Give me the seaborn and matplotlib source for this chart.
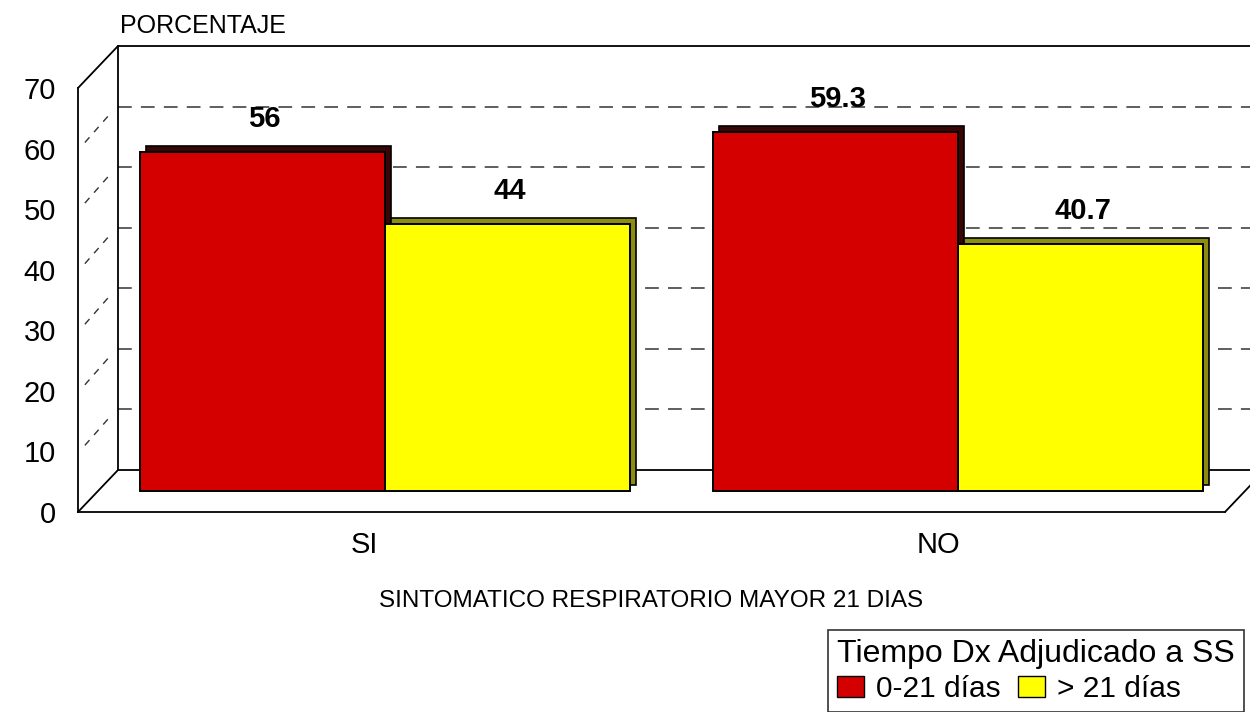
import numpy as np
import pandas as pd
import matplotlib
matplotlib.use('Agg')
import matplotlib.pyplot as plt
import matplotlib.transforms as mtransforms
from matplotlib.patches import Patch
import seaborn as sns

# Data
categorias = ['SI', 'NO']
grupos = ['0-21 días', '> 21 días']
pct_0_21 = [56, 59.3]
pct_mas_21 = [44, 40.7]
etiquetas = ['56', '59.3', '44', '40.7']
yticks = [0, 10, 20, 30, 40, 50, 60, 70]

df = pd.DataFrame({
    'sintomatico': categorias * 2,
    'tiempo': [grupos[0]] * 2 + [grupos[1]] * 2,
    'pct': pct_0_21 + pct_mas_21,
})

rojo = '#d40000'
amarillo = '#ffff00'
rojo_osc = '#3a0505'
amarillo_osc = '#8c8c10'

sns.set_style('white')
plt.rcParams['font.family'] = ['Liberation Sans', 'DejaVu Sans']
plt.rcParams['text.color'] = 'black'
plt.rcParams['xtick.color'] = 'black'
plt.rcParams['ytick.color'] = 'black'
plt.rcParams['axes.labelcolor'] = 'black'

fig = plt.figure(figsize=(12.5, 7.12), dpi=100)
W, H = 1250, 712
ax = fig.add_axes([78 / W, 1 - 512 / H, (1225 - 78) / W, (512 - 88) / H])
ax.set_xlim(-0.5, 1.5)
ax.set_ylim(0, 70)

# depth of the 3D box in data units (40 px right, 42 px up)
px_x = (1225 - 78) / 2.0
px_y = (512 - 88) / 70.0
dx, dy = 40 / px_x, 42 / px_y
x0, x1 = -0.5, 1.5

# back wall and floor
line_kw = dict(color='black', lw=1.3, clip_on=False, zorder=1)
ax.plot([x0 + dx, x1 + dx + 0.1], [70 + dy, 70 + dy], **line_kw)
ax.plot([x0 + dx, x0 + dx], [dy, 70 + dy], **line_kw)
ax.plot([x0, x0 + dx], [70, 70 + dy], **line_kw)
ax.plot([x0, x0 + dx], [0, dy], **line_kw)
ax.plot([x0 + dx, x1 + dx], [dy, dy], **line_kw)
ax.plot([x1, x1 + dx], [0, dy], **line_kw)
for v in yticks[1:-1]:
    ax.plot([x0 + dx, x1 + dx + 0.1], [v + dy, v + dy], color='#333333', lw=1.1,
            ls=(0, (9, 6)), clip_on=False, zorder=0.5)
    ax.plot([x0 + 0.012, x0 + dx - 0.012], [v + 1, v + dy - 1], color='#333333',
            lw=1.0, ls=(0, (5, 5)), clip_on=False, zorder=0.5)

# bars: dark copy behind for the depth, then the front faces
shift = mtransforms.offset_copy(ax.transData, fig=fig, x=20, y=21, units='dots')
shift_osc = mtransforms.offset_copy(ax.transData, fig=fig, x=26, y=27, units='dots')

sns.barplot(data=df, x='sintomatico', y='pct', hue='tiempo', order=categorias,
            hue_order=grupos, palette=[rojo_osc, amarillo_osc], width=0.855,
            saturation=1, edgecolor='black', linewidth=1.2, legend=False, ax=ax, zorder=2)
n_osc = len(ax.patches)
for p in ax.patches:
    p.set_transform(shift_osc)
    p.set_clip_on(False)

sns.barplot(data=df, x='sintomatico', y='pct', hue='tiempo', order=categorias,
            hue_order=grupos, palette=[rojo, amarillo], width=0.855,
            saturation=1, edgecolor='black', linewidth=1.4, legend=False, ax=ax, zorder=3)
for p in ax.patches[n_osc:]:
    p.set_transform(shift)
    p.set_clip_on(False)

lbl_shift = mtransforms.offset_copy(ax.transData, fig=fig, x=22, y=40, units='dots')
for p, txt in zip(ax.patches[n_osc:], etiquetas):
    ax.text(p.get_x() + p.get_width() / 2, p.get_height(), txt, transform=lbl_shift,
            ha='center', va='bottom', fontsize=21, fontweight='bold', zorder=5)

ax.set_xlim(x0, x1)
ax.set_ylim(0, 70)
sns.despine(ax=ax, top=True, right=True)
ax.spines['left'].set_linewidth(1.3)
ax.spines['bottom'].set_linewidth(1.3)
ax.spines['left'].set_color('black')
ax.spines['bottom'].set_color('black')
ax.set_yticks(yticks)
ax.tick_params(axis='y', length=0, labelsize=21, pad=16)
ax.tick_params(axis='x', length=0, labelsize=21, pad=14)
ax.set_xticks([0, 1])
ax.set_xticklabels(categorias)
ax.set_xlabel('SINTOMATICO RESPIRATORIO MAYOR 21 DIAS', fontsize=17.5, labelpad=22)
ax.set_ylabel('')
fig.text(120 / W, 1 - 26 / H, 'PORCENTAJE', fontsize=18, va='center', ha='left')

handles = [Patch(facecolor=rojo, edgecolor='black', label=grupos[0]),
           Patch(facecolor=amarillo, edgecolor='black', label=grupos[1])]
leg = fig.legend(handles=handles, title='Tiempo Dx Adjudicado a SS', ncol=2,
                 loc='upper left', bbox_to_anchor=(828 / W, 1 - 630 / H),
                 fontsize=21.5, title_fontsize=23, frameon=True, fancybox=False,
                 handlelength=0.9, handleheight=0.7, handletextpad=0.4,
                 columnspacing=0.6, borderpad=0.3, labelspacing=0.2,
                 borderaxespad=0)
leg.get_frame().set_edgecolor('black')
leg.get_frame().set_linewidth(1.2)
leg._legend_box.align = 'left'

fig.savefig('out.png', dpi=100)
